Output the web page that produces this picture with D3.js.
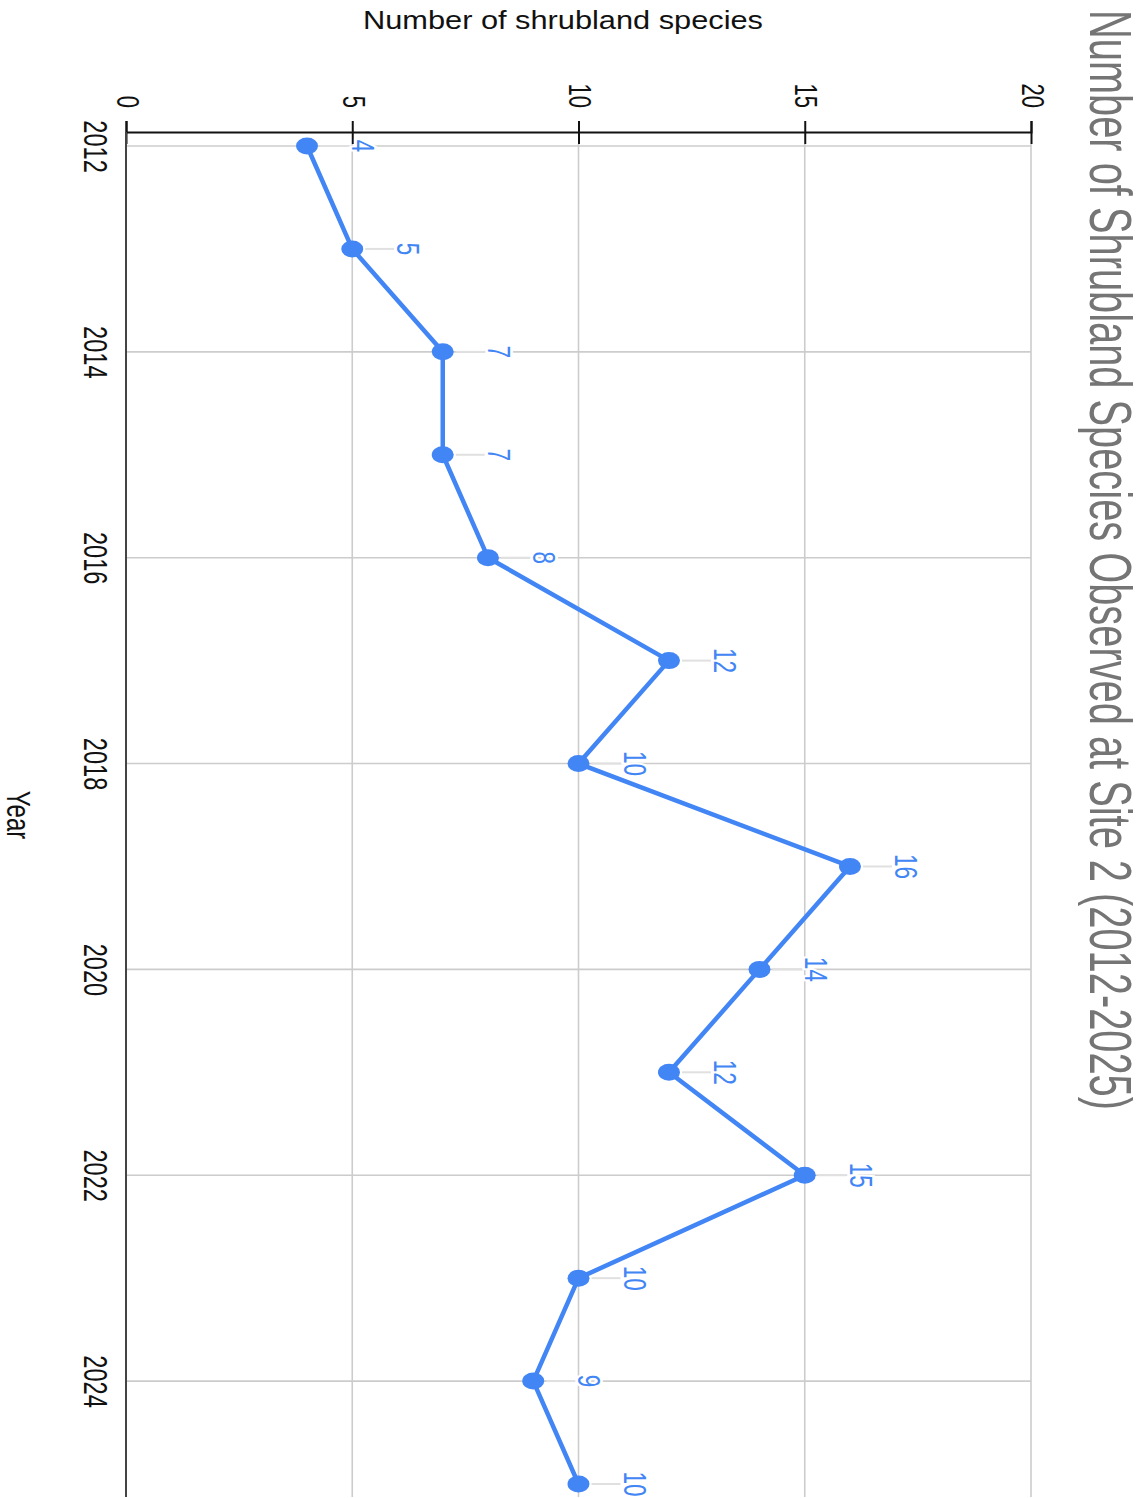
<!DOCTYPE html>
<html>
<head>
<meta charset="utf-8">
<script src="https://cdn.jsdelivr.net/npm/d3@7"></script>
<style>
  html, body { margin: 0; padding: 0; background: #fff; }
  svg { display: block; }
  text { font-family: Arial, "Liberation Sans", sans-serif; }
</style>
</head>
<body>
<svg id="chart" width="1143" height="1498"></svg>
<script>
// Shrubland species counts per survey year, Site 2
const years = [2012, 2013, 2014, 2015, 2016, 2017, 2018, 2019, 2020, 2021, 2022, 2023, 2024, 2025];
const species = [4, 5, 7, 7, 8, 12, 10, 16, 14, 12, 15, 10, 9, 10];
const yearTicks = [2012, 2014, 2016, 2018, 2020, 2022, 2024];
const valueTicks = [0, 5, 10, 15, 20];

const titleText = "Number of Shrubland Species Observed at Site 2 (2012-2025)";
const valueAxisTitle = "Number of shrubland species";
const yearAxisTitle = "Year";

const blue = "#4285F4";
const SX = 1.4; // horizontal glyph stretch for the rotated labels

const svg = d3.select("#chart");
svg.append("rect").attr("width", 1143).attr("height", 1498).attr("fill", "#fff");

// The chart is laid out on its side: values run left→right, years top→bottom
const x = d3.scaleLinear().domain([0, 20]).range([126, 1031]);
const y = d3.scaleLinear().domain([2012, 2025]).range([146, 1484]);

const axisY = 132;      // value axis line
const plotTop = 144;    // top of the grid
const plotBottom = 1497;

// grid
const grid = svg.append("g");
grid.selectAll("line.hg").data(yearTicks).join("line")
  .attr("x1", x(0)).attr("x2", x(20))
  .attr("y1", d => y(d)).attr("y2", d => y(d))
  .attr("stroke", "#cccccc").attr("stroke-width", 1.6);
grid.selectAll("line.vg").data(valueTicks.filter(d => d > 0)).join("line")
  .attr("x1", d => x(d)).attr("x2", d => x(d))
  .attr("y1", plotTop).attr("y2", plotBottom)
  .attr("stroke", "#cccccc").attr("stroke-width", 1.6);

// value axis (top)
const vAxis = svg.append("g")
  .attr("transform", `translate(0,${axisY})`)
  .call(d3.axisTop(x).tickValues(valueTicks).tickSizeOuter(0).tickSize(11));
vAxis.select(".domain").attr("stroke", "#111").attr("stroke-width", 2);
vAxis.selectAll(".tick line").attr("y1", 12).attr("y2", -11)
  .attr("stroke", "#111").attr("stroke-width", 2);
vAxis.selectAll(".tick text")
  .attr("x", 0).attr("y", 0).attr("dy", null)
  .attr("text-anchor", "end")
  .attr("font-size", 22).attr("fill", "#111")
  .attr("font-family", "Arial, 'Liberation Sans', sans-serif")
  .attr("transform", `translate(-10,-24) scale(${SX},1) rotate(90)`);

// year axis (left)
const yAxis = svg.append("g")
  .attr("transform", `translate(${x(0)},0)`)
  .call(d3.axisLeft(y).tickValues(yearTicks).tickFormat(d3.format("d")).tickSize(0));
yAxis.select(".domain").remove();
yAxis.selectAll(".tick text")
  .attr("x", 0).attr("y", 0).attr("dy", null)
  .attr("text-anchor", "middle")
  .attr("font-size", 23.6).attr("fill", "#111")
  .attr("font-family", "Arial, 'Liberation Sans', sans-serif")
  .attr("transform", `translate(-42,0) scale(${SX},1) rotate(90)`);
svg.append("line")
  .attr("x1", x(0)).attr("x2", x(0))
  .attr("y1", axisY).attr("y2", plotBottom)
  .attr("stroke", "#444").attr("stroke-width", 2);

// axis titles
svg.append("text")
  .attr("x", 563).attr("y", 29)
  .attr("text-anchor", "middle")
  .attr("font-size", 25).attr("fill", "#111")
  .attr("textLength", 400).attr("lengthAdjust", "spacingAndGlyphs")
  .text(valueAxisTitle);
svg.append("text")
  .attr("text-anchor", "middle")
  .attr("font-size", 24).attr("fill", "#111")
  .attr("transform", `translate(7,815) scale(${SX},1) rotate(90)`)
  .text(yearAxisTitle);

// chart title
svg.append("text")
  .attr("text-anchor", "start")
  .attr("font-size", 42).attr("fill", "#757575")
  .attr("font-family", "Roboto, Arial, sans-serif")
  .attr("textLength", 1100).attr("lengthAdjust", "spacingAndGlyphs")
  .attr("transform", `translate(1090,10) scale(${SX},1) rotate(90)`)
  .text(titleText);

const data = years.map((yr, i) => ({ year: yr, value: species[i] }));

// leader lines from each point to its value label
svg.append("g").selectAll("line").data(data).join("line")
  .attr("x1", d => x(d.value) + 13).attr("x2", d => x(d.value) + 42)
  .attr("y1", d => y(d.year)).attr("y2", d => y(d.year))
  .attr("stroke", "#e0e0e0").attr("stroke-width", 2);

// series line
const line = d3.line().x(d => x(d.value)).y(d => y(d.year));
svg.append("path").datum(data)
  .attr("d", line)
  .attr("fill", "none").attr("stroke", blue)
  .attr("stroke-width", 4.5).attr("stroke-linejoin", "round");

// points
svg.append("g").selectAll("ellipse").data(data).join("ellipse")
  .attr("cx", d => x(d.value)).attr("cy", d => y(d.year))
  .attr("rx", 11).attr("ry", 8.5)
  .attr("fill", blue);

// value labels
svg.append("g").selectAll("text").data(data).join("text")
  .attr("text-anchor", "middle")
  .attr("font-size", 22.5).attr("fill", blue)
  .attr("stroke", "#fff").attr("stroke-width", 4).attr("paint-order", "stroke")
  .attr("transform", d => `translate(${x(d.value) + 45},${y(d.year)}) scale(${SX},1) rotate(90)`)
  .text(d => d.value);
</script>
</body>
</html>
